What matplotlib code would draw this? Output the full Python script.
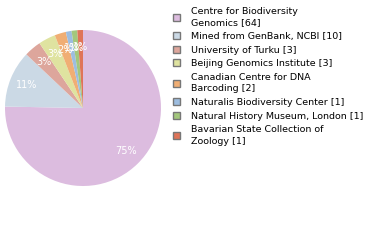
import matplotlib
matplotlib.use("Agg")
import matplotlib.pyplot as plt
from matplotlib.patches import Patch

labels = ["Centre for Biodiversity\nGenomics [64]",
          "Mined from GenBank, NCBI [10]",
          "University of Turku [3]",
          "Beijing Genomics Institute [3]",
          "Canadian Centre for DNA\nBarcoding [2]",
          "Naturalis Biodiversity Center [1]",
          "Natural History Museum, London [1]",
          "Bavarian State Collection of\nZoology [1]"]
values = [64, 10, 3, 3, 2, 1, 1, 1]
colors = ["#dcbcdf", "#cbd9e5", "#dda69c", "#dfe3a0", "#f0ae74", "#9dbde0", "#a3c77c", "#df7458"]

fig = plt.figure(figsize=(3.8, 2.4), dpi=100)
ax = fig.add_axes([5/380, 54/240, 156/380, 156/240])
wedges, texts, autotexts = ax.pie(values, colors=colors, startangle=90, counterclock=False,
                                  autopct=lambda p: f"{int(p)}%", pctdistance=0.78,
                                  textprops=dict(color="white", fontsize=7))
ax.set_xlim(-1, 1)
ax.set_ylim(-1, 1)
ax.set_aspect("equal")

handles = [Patch(facecolor=c, edgecolor="#777777", linewidth=1) for c in colors]
leg = fig.legend(handles, labels, loc="upper left", bbox_to_anchor=(168/380, 1.0 - 2/240),
                 frameon=False, fontsize=6.8, handlelength=0.75, handleheight=0.75,
                 handletextpad=1.15, labelspacing=0.48, borderaxespad=0.1)
for t in leg.get_texts():
    t.set_linespacing(1.4)
fig.savefig("out.png", dpi=100)
